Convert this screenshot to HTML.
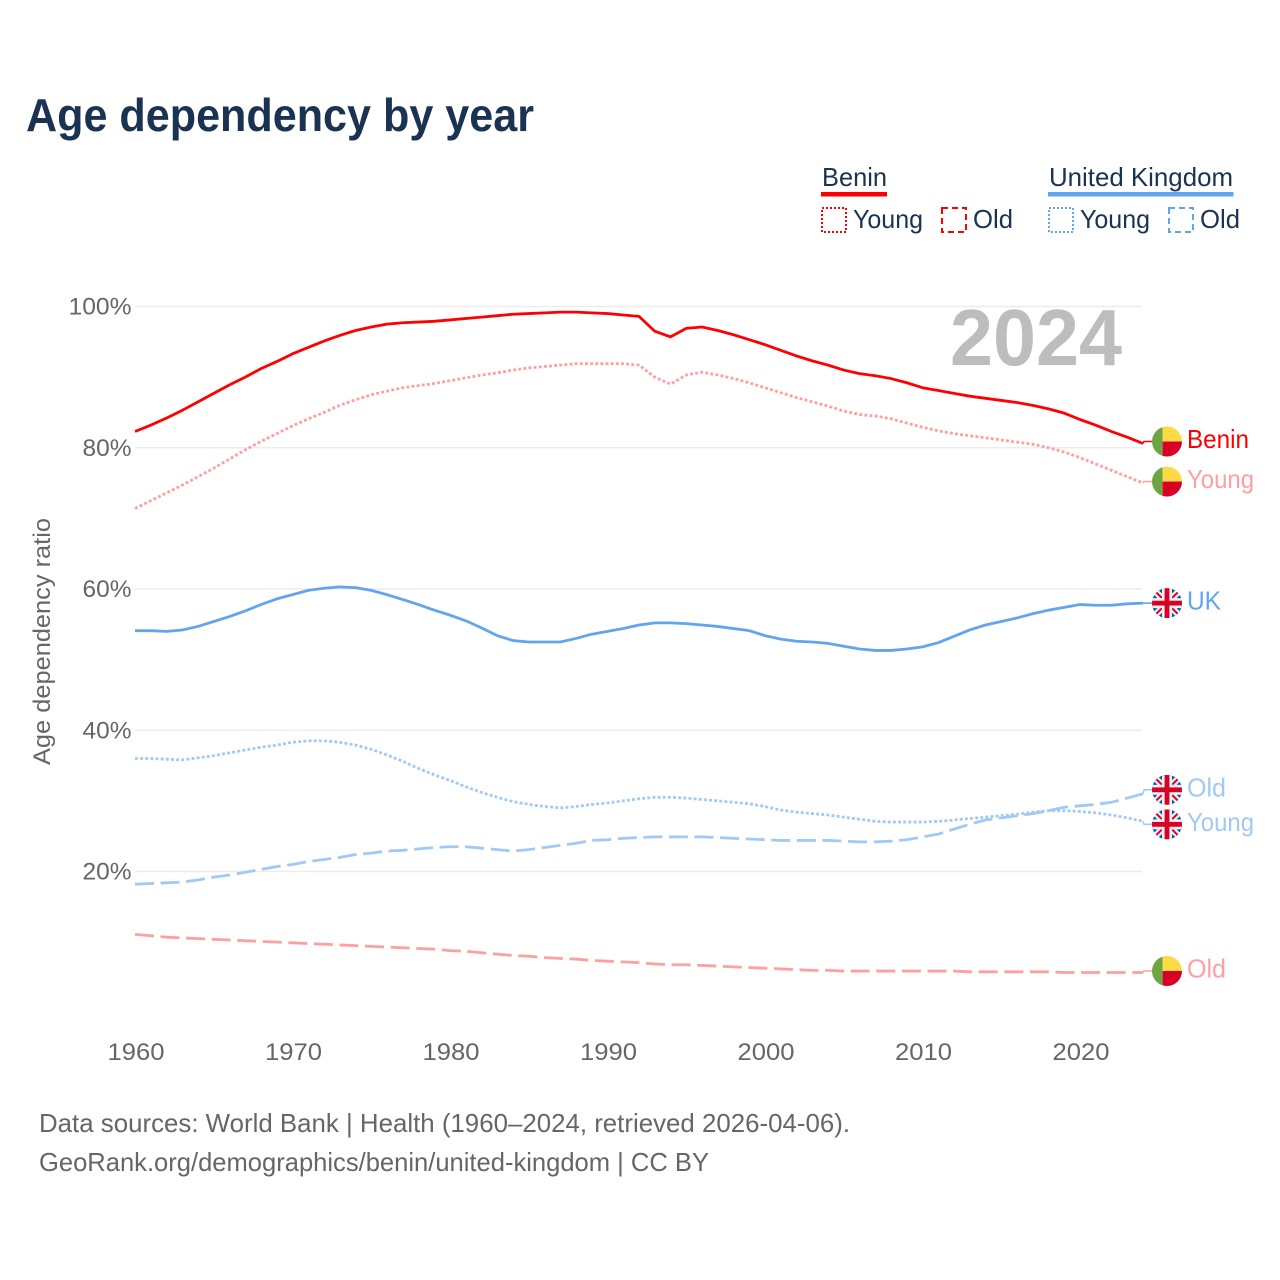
<!DOCTYPE html>
<html lang="en">
<head>
<meta charset="utf-8">
<title>Age dependency by year</title>
<style>
html,body{margin:0;padding:0;background:#fff}
svg{display:block}
text{font-family:"Liberation Sans",Arial,sans-serif}
</style>
</head>
<body>
<svg id="chart" xmlns="http://www.w3.org/2000/svg" width="1280" height="1280" viewBox="0 0 1280 1280">
  <defs>
    <clipPath id="flag-clip"><circle cx="0" cy="0" r="15"/></clipPath>
  </defs>
  <rect x="0" y="0" width="1280" height="1280" fill="#fff"/>
  <text x="26" y="131" font-size="46" font-weight="700" fill="#1a3353" textLength="508" lengthAdjust="spacingAndGlyphs">Age dependency by year</text>

  <g font-size="26" fill="#1a3353">
    <text x="822" y="186" textLength="65" lengthAdjust="spacingAndGlyphs">Benin</text>
    <rect x="821" y="192" width="66" height="4.5" fill="#ff0000"/>
    <rect x="822" y="208" width="24" height="24" fill="none" stroke="#ff0000" stroke-width="2" stroke-dasharray="2 2"/>
    <text x="853" y="228" textLength="70" lengthAdjust="spacingAndGlyphs">Young</text>
    <rect x="942" y="208" width="24" height="24" fill="none" stroke="#ff0000" stroke-width="2" stroke-dasharray="6 4"/>
    <text x="973" y="228" textLength="40" lengthAdjust="spacingAndGlyphs">Old</text>
    <text x="1049" y="186" textLength="184" lengthAdjust="spacingAndGlyphs">United Kingdom</text>
    <rect x="1048" y="192" width="185.500" height="4.5" fill="#60a5ee"/>
    <rect x="1049" y="208" width="24" height="24" fill="none" stroke="#60a5ee" stroke-width="2" stroke-dasharray="2 2"/>
    <text x="1080" y="228" textLength="70" lengthAdjust="spacingAndGlyphs">Young</text>
    <rect x="1169" y="208" width="24" height="24" fill="none" stroke="#60a5ee" stroke-width="2" stroke-dasharray="6 4"/>
    <text x="1200" y="228" textLength="40" lengthAdjust="spacingAndGlyphs">Old</text>
  </g>

  <g id="grid"></g>
  <g id="y-axis"></g>
  <g id="x-axis"></g>
  <text transform="translate(50,765) rotate(-90)" x="0" y="0" font-size="24" fill="#666" textLength="247" lengthAdjust="spacingAndGlyphs">Age dependency ratio</text>
  <text x="950" y="365" font-size="80" font-weight="700" fill="#bdbdbd" textLength="172" lengthAdjust="spacingAndGlyphs">2024</text>
  <g id="series"></g>
  <g id="labels"></g>

  <text x="39" y="1132" font-size="26" fill="#666" textLength="811" lengthAdjust="spacingAndGlyphs">Data sources: World Bank | Health (1960–2024, retrieved 2026-04-06).</text>
  <text x="39" y="1171" font-size="26" fill="#666" textLength="670" lengthAdjust="spacingAndGlyphs">GeoRank.org/demographics/benin/united-kingdom | CC BY</text>
</svg>

<script>
const startYear = 1960;
const xTickYears = [1960, 1970, 1980, 1990, 2000, 2010, 2020];
const yTickValues = [100, 80, 60, 40, 20];

const beninTotal = [
  82.3,83.2,84.2,85.3,86.5,87.7,88.9,90.0,91.2,92.2,
  93.3,94.2,95.1,95.9,96.6,97.1,97.5,97.7,97.8,97.9,
  98.1,98.3,98.5,98.7,98.9,99.0,99.1,99.2,99.2,99.1,
  99.0,98.8,98.6,96.5,95.7,96.9,97.1,96.6,96.0,95.3,
  94.6,93.8,93.0,92.3,91.7,91.0,90.5,90.2,89.8,89.2,
  88.5,88.1,87.7,87.3,87.0,86.7,86.4,86.0,85.5,84.9,
  84.0,83.2,82.3,81.5,80.6];
const beninYoung = [
  71.4,72.5,73.6,74.7,75.9,77.1,78.4,79.7,80.9,82.0,
  83.1,84.1,85.0,86.0,86.8,87.5,88.0,88.5,88.8,89.1,
  89.5,89.9,90.3,90.6,91.0,91.3,91.5,91.7,91.9,91.9,
  91.9,91.9,91.7,90.0,89.0,90.3,90.7,90.3,89.8,89.2,
  88.5,87.8,87.1,86.5,85.9,85.2,84.7,84.5,84.1,83.5,
  82.9,82.4,82.0,81.7,81.4,81.1,80.8,80.5,80.0,79.4,
  78.6,77.7,76.8,75.9,75.0];
const beninOld = [
  11.1,10.9,10.7,10.6,10.5,10.4,10.3,10.2,10.1,10.0,
  9.9,9.8,9.7,9.6,9.5,9.4,9.3,9.2,9.1,9.0,
  8.8,8.7,8.5,8.3,8.1,8.0,7.8,7.7,7.6,7.4,
  7.3,7.2,7.1,6.9,6.8,6.8,6.7,6.6,6.5,6.4,
  6.3,6.2,6.1,6.0,6.0,5.9,5.9,5.9,5.9,5.9,
  5.9,5.9,5.9,5.8,5.8,5.8,5.8,5.8,5.8,5.7,
  5.7,5.7,5.7,5.7,5.7];
const ukTotal = [
  54.1,54.1,54.0,54.2,54.7,55.4,56.1,56.9,57.8,58.6,
  59.2,59.8,60.1,60.3,60.2,59.8,59.2,58.5,57.8,57.0,
  56.3,55.5,54.5,53.4,52.7,52.5,52.5,52.5,53.0,53.6,
  54.0,54.4,54.9,55.2,55.2,55.1,54.9,54.7,54.4,54.1,
  53.4,52.9,52.6,52.5,52.3,51.9,51.5,51.3,51.3,51.5,
  51.8,52.4,53.3,54.2,54.9,55.4,55.9,56.5,57.0,57.4,
  57.8,57.7,57.7,57.9,58.0];
const ukYoung = [
  36.0,36.0,35.9,35.8,36.1,36.4,36.8,37.2,37.6,37.9,
  38.3,38.5,38.5,38.3,37.9,37.3,36.5,35.6,34.6,33.7,
  32.9,32.0,31.2,30.5,29.9,29.5,29.2,29.0,29.2,29.5,
  29.7,30.0,30.3,30.5,30.5,30.4,30.2,30.0,29.8,29.6,
  29.2,28.7,28.4,28.2,28.0,27.7,27.4,27.1,27.0,27.0,
  27.0,27.1,27.3,27.5,27.7,27.9,28.1,28.4,28.6,28.6,
  28.5,28.3,28.0,27.6,27.1];
const ukOld = [
  18.2,18.3,18.4,18.5,18.8,19.2,19.5,19.9,20.3,20.7,
  21.0,21.4,21.7,22.0,22.4,22.6,22.9,23.0,23.2,23.4,
  23.5,23.5,23.3,23.1,22.9,23.1,23.4,23.7,24.0,24.4,
  24.5,24.7,24.8,24.9,24.9,24.9,24.9,24.8,24.7,24.6,
  24.5,24.4,24.4,24.4,24.4,24.3,24.2,24.2,24.3,24.5,
  24.9,25.3,26.0,26.7,27.3,27.6,27.9,28.2,28.6,29.1,
  29.3,29.5,29.8,30.4,31.0];

const NS = 'http://www.w3.org/2000/svg';
function xScale(year) { return 135 + (year - 1960) * 15.75; }
function yScale(value) { return 306.5 + (100 - value) * 7.0625; }

function make(tag, attrs, parent) {
  const el = document.createElementNS(NS, tag);
  for (const k in attrs) el.setAttribute(k, attrs[k]);
  parent.appendChild(el);
  return el;
}

const gridGroup = document.getElementById('grid');
const yAxisGroup = document.getElementById('y-axis');
const xAxisGroup = document.getElementById('x-axis');
const seriesGroup = document.getElementById('series');
const labelGroup = document.getElementById('labels');

yTickValues.forEach(function (v) {
  const line = make('line', {x1: 135, x2: 1142, y1: yScale(v), y2: yScale(v), stroke: '#ececec', 'stroke-width': 1.6}, gridGroup);
  
  
  const t = make('text', {x: 131.5, y: yScale(v) + 8, 'font-size': 24, fill: '#666', 'text-anchor': 'end'}, yAxisGroup);
  
  
  t.textContent = v + '%';
  t.setAttribute('textLength', v === 100 ? 63 : 49);
  t.setAttribute('lengthAdjust', 'spacingAndGlyphs');
});

xTickYears.forEach(function (year) {
  const t = make('text', {x: xScale(year) + 1, y: 1060, 'font-size': 24, fill: '#666', 'text-anchor': 'middle'}, xAxisGroup);
  
  
  t.textContent = year;
  t.setAttribute('textLength', 57);
  t.setAttribute('lengthAdjust', 'spacingAndGlyphs');
});

function drawBeninFlag(cx, cy) {
  const g = make('g', {transform: 'translate(' + cx + ',' + cy + ')', 'clip-path': 'url(#flag-clip)'}, labelGroup);
  
  
  make('rect', {x: -15, y: -15, width: 10.6, height: 30, fill: '#6da544'}, g);
  make('rect', {x: -4.4, y: -15, width: 19.4, height: 15, fill: '#ffda44'}, g);
  make('rect', {x: -4.4, y: 0, width: 19.4, height: 15, fill: '#d80027'}, g);
}

function drawUkFlag(cx, cy) {
  const g = make('g', {transform: 'translate(' + cx + ',' + cy + ')', 'clip-path': 'url(#flag-clip)'}, labelGroup);
  
  
  make('rect', {x: -15, y: -15, width: 30, height: 30, fill: '#0052b4'}, g);
  make('path', {d: 'M-15,-15L15,15M15,-15L-15,15', stroke: '#f0f0f0', 'stroke-width': 6.5, fill: 'none'}, g);
  make('path', {d: 'M-15,-15L15,15M15,-15L-15,15', stroke: '#d80027', 'stroke-width': 2, fill: 'none'}, g);
  make('rect', {x: -5, y: -15, width: 10, height: 30, fill: '#f0f0f0'}, g);
  make('rect', {x: -15, y: -5, width: 30, height: 10, fill: '#f0f0f0'}, g);
  make('rect', {x: -2.4, y: -15, width: 4.8, height: 30, fill: '#d80027'}, g);
  make('rect', {x: -15, y: -2.4, width: 30, height: 4.8, fill: '#d80027'}, g);
}

function drawSeries(name, values, color, width, dash, labelText, labelWidth, nudge, flag) {
  const lastValue = values[values.length - 1];
  const lastX = xScale(startYear + values.length - 1);
  const flagY = yScale(lastValue) + nudge;
  const pts = values.map(function (v, i) { return xScale(startYear + i).toFixed(2) + ',' + yScale(v).toFixed(2); });
  const path = make('path', {d: 'M' + pts.join('L'), fill: 'none', stroke: color, 'stroke-width': width, 'stroke-linejoin': 'round'}, seriesGroup);
  
  
  if (dash) path.setAttribute('stroke-dasharray', dash);
  const lead = make('path', {d: 'M' + lastX + ',' + yScale(lastValue).toFixed(2) + 'L' + (lastX + 1) + ',' + flagY.toFixed(2) + 'L1153,' + flagY.toFixed(2), fill: 'none', stroke: color, 'stroke-width': 1.6}, seriesGroup);
  
  
  flag(1167, flagY);
  const t = make('text', {x: 1187, y: flagY + 6.5, 'font-size': 26, fill: color}, labelGroup);
  
  
  t.textContent = labelText;
  t.setAttribute('textLength', labelWidth);
  t.setAttribute('lengthAdjust', 'spacingAndGlyphs');
}

drawSeries('benin-old', beninOld, '#ff9f9f', 2.8, '19 6.6', 'Old', 39, -1.5, drawBeninFlag);
drawSeries('uk-old', ukOld, '#a0c9f5', 2.8, '19 6.6', 'Old', 39, -4, drawUkFlag);
drawSeries('uk-young', ukYoung, '#a0c9f5', 2.8, '2.9 2.25', 'Young', 67, 3, drawUkFlag);
drawSeries('benin-young', beninYoung, '#ff9f9f', 2.8, '2.9 2.25', 'Young', 67, -1.5, drawBeninFlag);
drawSeries('uk-total', ukTotal, '#60a5ee', 2.8, null, 'UK', 34, 0, drawUkFlag);
drawSeries('benin-total', beninTotal, '#ff0000', 2.8, null, 'Benin', 62, -2, drawBeninFlag);
</script>
</body>
</html>
